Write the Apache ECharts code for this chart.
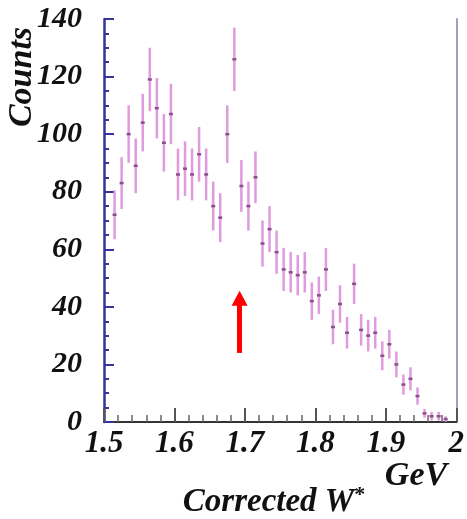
<!DOCTYPE html>
<html><head><meta charset="utf-8">
<script src="https://cdn.jsdelivr.net/npm/echarts@6/dist/echarts.min.js"></script>
<style>html,body{margin:0;padding:0;background:#fff}#c{width:467px;height:519px}</style>
</head><body><div id="c"></div>
<script>
// Bin centres (GeV)
const wCenters = [1.515,1.525,1.535,1.545,1.555,1.565,1.575,1.585,1.595,1.605,
  1.615,1.625,1.635,1.645,1.655,1.665,1.675,1.685,1.695,1.705,
  1.715,1.725,1.735,1.745,1.755,1.765,1.775,1.785,1.795,1.805,
  1.815,1.825,1.835,1.845,1.855,1.865,1.875,1.885,1.895,1.905,
  1.915,1.925,1.935,1.945,1.955,1.965,1.975,1.985];
// Counts per bin
const counts = [72,83,100,89,104,119,109,97,107,86,
  88,86,93,86,75,71,100,126,82,75,
  85,62,67,59,53,52,51,52,42,44,
  53,33,41,31,48,32,30,31,23,27,
  20,13,15,9,3,2,2,1];
// Error bar half-lengths
const errors = [8.5,9,10,9.5,10,11,10.5,10,10.5,9,
  9.5,9,9.5,9,8.5,8.5,10,11,9,8.5,
  9,8,8,7.5,7.5,7,7,7,6.5,6.5,
  7.5,6,6.5,5.5,7,5.5,5.5,5.5,5,5,
  4.5,3.5,4,3,1.5,1.5,1.5,1];
// Axis ticks
const xTicks = [1.5,1.6,1.7,1.8,1.9,2];
const yTicks = [0,20,40,60,80,100,120,140];
// Arrow (x position and vertical extent in data units)
const arrowX = 1.6925;
const arrowFrom = 24;
const arrowTo = 43;

const data = wCenters.map((w,i)=>[w, counts[i], errors[i]]);
const chart = echarts.init(document.getElementById('c'), null, {renderer:'canvas'});
const lblFont = {fontFamily:'Liberation Serif', fontWeight:'bold', fontStyle:'italic', color:'#111'};

function renderErr(params, api){
  const x = api.value(0), y = api.value(1), e = api.value(2);
  const t = api.coord([x, y+e]), b = api.coord([x, Math.max(0, y-e)]), c = api.coord([x, y]);
  return {type:'group', children:[
    {type:'line', shape:{x1:t[0],y1:t[1],x2:b[0],y2:b[1]}, style:{stroke:'#d88ad8', lineWidth:2.5, opacity:0.85}},
    {type:'line', shape:{x1:c[0]-2,y1:c[1],x2:c[0]+2,y2:c[1]}, style:{stroke:'#8c4f8c', lineWidth:2.5}}
  ]};
}

chart.setOption({
  animation:false,
  backgroundColor:'#fff',
  grid:{left:104, right:10, top:19, bottom:97},
  xAxis:[{
    type:'value', min:xTicks[0], max:xTicks[xTicks.length-1], interval:0.1,
    axisLine:{lineStyle:{color:'#3434a0', width:2}},
    axisTick:{inside:true, length:14, lineStyle:{color:'#555', width:2}},
    minorTick:{show:true, splitNumber:5, length:7, lineStyle:{color:'#666', width:1.5}},
    splitLine:{show:false},
    axisLabel:Object.assign({fontSize:31, margin:6, formatter:v=>String(+v.toFixed(1))}, lblFont)
  },{
    type:'value', position:'top', min:xTicks[0], max:xTicks[xTicks.length-1],
    axisLine:{show:true, lineStyle:{color:'#333', width:2}},
    axisTick:{show:false}, axisLabel:{show:false}, splitLine:{show:false}
  }],
  yAxis:[{
    type:'value', min:yTicks[0], max:yTicks[yTicks.length-1], interval:20,
    axisLine:{show:true, lineStyle:{color:'#34349a', width:2.5}},
    axisTick:{inside:true, length:10, lineStyle:{color:'#34349a', width:2}},
    minorTick:{show:true, splitNumber:4, length:5, lineStyle:{color:'#34349a', width:2}},
    splitLine:{show:false},
    axisLabel:Object.assign({fontSize:30, margin:22}, lblFont)
  },{
    type:'value', position:'right', min:yTicks[0], max:yTicks[yTicks.length-1],
    axisLine:{show:true, lineStyle:{color:'#a0a0c0', width:2}},
    axisTick:{show:false}, axisLabel:{show:false}, splitLine:{show:false}
  }],
  series:[{
    type:'custom', renderItem:renderErr, data:data, clip:true,
    xAxisIndex:0, yAxisIndex:0,
    markLine:{
      silent:true, animation:false,
      symbol:['none','triangle'], symbolSize:[16,15],
      label:{show:false},
      lineStyle:{color:'#ff0000', width:5, type:'solid'},
      data:[[{coord:[arrowX, arrowFrom]},{coord:[arrowX, arrowTo]}]]
    }
  }],
  graphic:[
    {type:'text', x:22, y:77, rotation:Math.PI/2, style:{text:'Counts', fontSize:34, fontFamily:'Liberation Serif', fontWeight:'bold', fontStyle:'italic', fill:'#111', align:'center', verticalAlign:'middle'}},
    {type:'text', x:274, y:502, style:{text:'{a|Corrected W}{s|*}', align:'center', verticalAlign:'middle', rich:{
      a:{fontSize:33, fontFamily:'Liberation Serif', fontWeight:'bold', fontStyle:'italic', fill:'#111'},
      s:{fontSize:22, fontFamily:'Liberation Serif', fontWeight:'bold', fill:'#111', verticalAlign:'top', padding:[0,0,14,0]}}}},
    {type:'text', x:416, y:476, style:{text:'GeV', fontSize:34, fontFamily:'Liberation Serif', fontWeight:'bold', fontStyle:'italic', fill:'#111', align:'center', verticalAlign:'middle'}}
  ]
});
</script></body></html>
